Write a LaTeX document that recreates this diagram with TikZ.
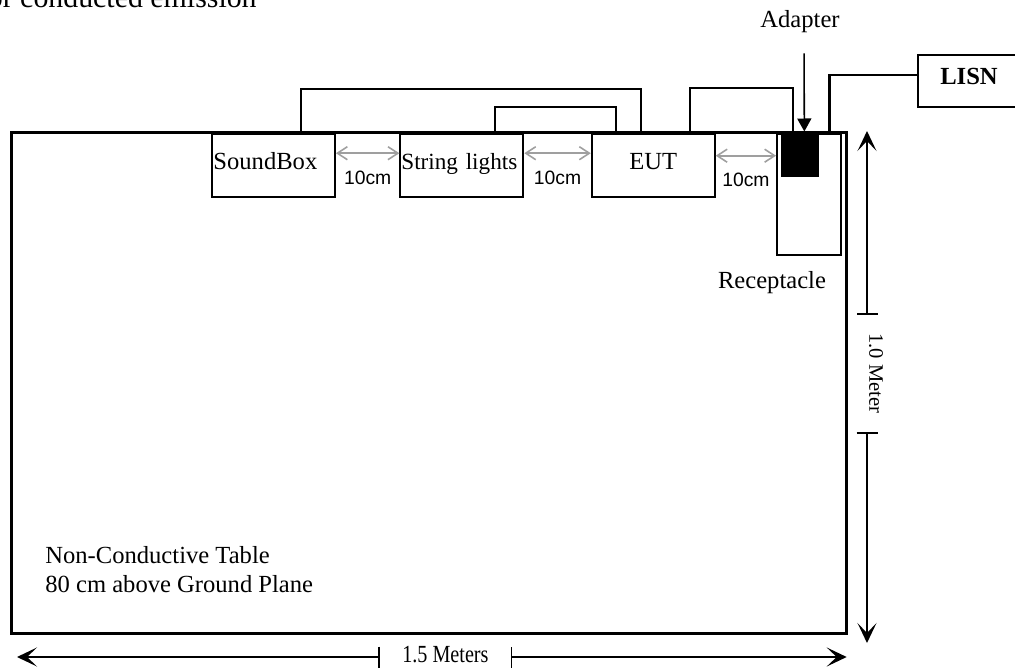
\documentclass[tikz,border=0pt]{standalone}
\usepackage{fontspec}
\setmainfont{Liberation Serif}
\newfontfamily\arialfont{Liberation Sans}
\usetikzlibrary{positioning,arrows.meta,calc}
\tikzset{
  tbl/.style  = {draw, line width=1.7pt, minimum width=16.7cm, minimum height=10.02cm,
                 anchor=north west, inner sep=0pt},
  unit/.style = {draw, line width=1.1pt, minimum width=2.46cm, minimum height=1.27cm,
                 inner sep=0pt, text height=0.7em, text depth=0.25em,
                 font=\fontsize{14}{16}\selectfont},
  lbl/.style  = {font=\fontsize{14}{16.5}\selectfont},
  wire/.style = {line width=0.9pt},
  mains/.style = {line width=1.7pt},
  gap/.style  = {draw=gray!75, line width=0.9pt,
                 arrows={Straight Barb[length=2mm,width=2.6mm]-Straight Barb[length=2mm,width=2.6mm]}},
  dist/.style = {font=\arialfont\fontsize{11}{13}\selectfont, below=0.34cm, inner sep=0pt, text=black},
  dim/.style  = {line width=0.9pt,
                 arrows={Bar[width=0.42cm]-Stealth[length=0.4cm,width=0.38cm,inset=0.2cm]}},
}

\begin{document}
\begin{tikzpicture}[x=0.02cm, y=-0.02cm]
  \useasboundingbox (0,0) rectangle (1015,669);

  % table and what stands on it
  \node[tbl] (table) at (10,131) {};
  \node[unit, anchor=north west, text width=2.4cm, align=left] (snd) at (211,133) {\mbox{SoundBox}};
  \node[unit, right=1.27cm of snd, text width=2.42cm, align=left, font=\fontsize{13.2}{16}\selectfont] (str) {\mbox{String lights}};
  \node[unit, right=1.33cm of str] (eut) {EUT};
  \node[unit, anchor=north east, minimum width=1.28cm, minimum height=2.43cm] (rec) at (842,133) {};
  \node[fill=black, minimum width=0.76cm, minimum height=0.9cm, inner sep=0pt, anchor=north west] (adp) at (781,131.5) {};
  \node[unit, minimum width=2.04cm, minimum height=1.04cm, font=\fontsize{14}{16}\selectfont\bfseries] (lisn) at (969,81) {LISN};

  % labels
  \node[lbl, anchor=base east, inner sep=0pt, font=\fontsize{17}{20}\selectfont] (title) at (257,7.3) {or conducted emission};
  \node[lbl] (adplbl) at (800,22) {Adapter};
  \node[lbl, anchor=base] (reclbl) at (772,288) {Receptacle};
  \node[lbl, anchor=base west, align=left, inner sep=0pt] (tbllbl) at (45,592) {Non-Conductive Table\\80 cm above Ground Plane};

  % cables
  \draw[wire] ([xshift=0.55cm]snd.north) -- ++(0,-44) -| ([xshift=-0.25cm]eut.north);
  \draw[wire] ([xshift=0.66cm]str.north) -- ++(0,-26) -| ([xshift=-0.75cm]eut.north);
  \draw[wire] ([xshift=0.73cm]eut.north) -- ++(0,-45) -| ([xshift=-0.15cm]adp.north);
  \draw[mains] ([xshift=0.41cm]rec.north) |- ([yshift=0.12cm]lisn.west);
  \draw[wire, -{Triangle[length=0.26cm,width=0.28cm]}, shorten <=0.28cm] ([xshift=0.08cm]adplbl.south) -- ([xshift=0.08cm]adp.north);

  % spacing
  \draw[gap] ([yshift=0.25cm]snd.east) -- ([yshift=0.25cm]str.west) node[dist, midway] {10cm};
  \draw[gap] ([yshift=0.25cm]str.east) -- ([yshift=0.25cm]eut.west) node[dist, midway] {10cm};
  \draw[gap] ([yshift=0.2cm]eut.east) -- ([yshift=0.2cm]rec.west |- eut.east) node[dist, midway] {10cm};

  % dimensions
  \coordinate (htop) at (867,131);
  \coordinate (hbot) at (867,643);
  \node[rotate=-90, inner xsep=0.37cm, inner ysep=0pt, font=\fontsize{11.7}{14}\selectfont] (hgt) at (876,373.5) {1.0 Meter};
  \draw[dim] (hgt.west -| htop) -- (htop);
  \draw[dim] (hgt.east -| hbot) -- (hbot);

  \coordinate (wl) at (17,657);
  \coordinate (wr) at (846.7,657);
  \node[lbl, inner xsep=0.44cm, inner ysep=0pt] (wid) at (445.4,655) {\scalebox{0.82}[1]{1.5 Meters}};
  \draw[dim] (wid.west |- wl) -- (wl);
  \draw[dim] (wid.east |- wr) -- (wr);
\end{tikzpicture}
\end{document}
